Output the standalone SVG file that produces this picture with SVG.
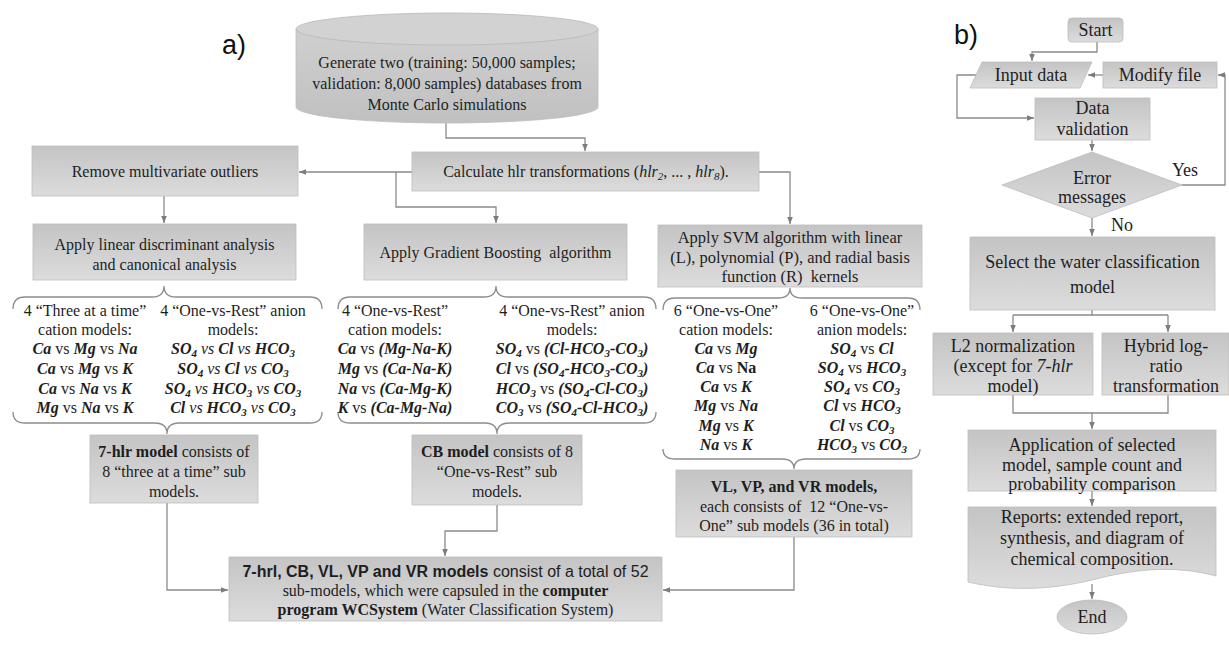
<svg xmlns="http://www.w3.org/2000/svg" width="1229" height="649" viewBox="0 0 1229 649">
<defs>
<linearGradient id="gb" x1="0" y1="0" x2="0" y2="1"><stop offset="0" stop-color="#c4c4c4"/><stop offset="1" stop-color="#dcdcdc"/></linearGradient>
<linearGradient id="gc" x1="0" y1="0" x2="0" y2="1"><stop offset="0" stop-color="#d0d0d0"/><stop offset="1" stop-color="#c0c0c0"/></linearGradient>
<marker id="ah" viewBox="0 0 10 10" refX="10" refY="5" markerWidth="7" markerHeight="7" orient="auto" markerUnits="userSpaceOnUse"><path d="M0,1 L10,5 L0,9 z" fill="#7c7c7c"/></marker>
</defs>
<style>
.bx{fill:url(#gb);stroke:#bdbdbd;stroke-width:0.8}
.t{font-family:"Liberation Serif","Times New Roman",serif;font-size:16px;fill:#1e1e1e;text-anchor:middle}
.tb{font-size:18px}
.sv{font-size:16.5px}
.s{font-family:"Liberation Sans",Arial,sans-serif}
.bi{font-weight:bold;font-style:italic}
.b{font-weight:bold}
.i{font-style:italic}
.sb{font-size:11px;baseline-shift:-3px}
.cn{fill:none;stroke:#8a8a8a;stroke-width:1.3}
.br{fill:none;stroke:#8c8c8c;stroke-width:1.3}
.lbl{font-family:"Liberation Sans",Arial,sans-serif;font-size:27px;fill:#111}
</style>
<rect width="1229" height="649" fill="#ffffff"/>
<text class="lbl" x="222" y="54">a)</text>
<text class="lbl" x="954" y="44">b)</text>

<g id="connectors">
<path class="cn" d="M446,123 V138 H585 V151" marker-end="url(#ah)"/>
<path class="cn" d="M412,172 H299" marker-end="url(#ah)"/>
<path class="cn" d="M396,172 V207 H496 V223" marker-end="url(#ah)"/>
<path class="cn" d="M759,172 H790 V224" marker-end="url(#ah)"/>
<path class="cn" d="M164,196 V223" marker-end="url(#ah)"/>
<path class="cn" d="M167,503 V590 H228" marker-end="url(#ah)"/>
<path class="cn" d="M497,505 V531 H445 V556" marker-end="url(#ah)"/>
<path class="cn" d="M794,537 V590 H663" marker-end="url(#ah)"/>
<path class="br" d="M13,309 Q13,297 25,297 H152 Q164,297 164,286 Q164,297 176,297 H310 Q322,297 322,309"/>
<path class="br" d="M338,309 Q338,297 350,297 H484 Q496,297 496,286 Q496,297 508,297 H644 Q656,297 656,309"/>
<path class="br" d="M663,310 Q663,298 675,298 H778 Q790,298 790,288 Q790,298 802,298 H908 Q920,298 920,310"/>
<path class="br" d="M13,412 Q13,423 25,423 H155 Q167,423 167,434 Q167,423 179,423 H310 Q322,423 322,412"/>
<path class="br" d="M338,412 Q338,423 350,423 H485 Q497,423 497,434 Q497,423 509,423 H644 Q656,423 656,412"/>
<path class="br" d="M663,449 Q663,459 675,459 H782 Q794,459 794,469 Q794,459 806,459 H908 Q920,459 920,449"/>
<path class="cn" d="M1097,42 V52 H1032 V61" marker-end="url(#ah)"/>
<path class="cn" d="M1103,75 H1088" marker-end="url(#ah)"/>
<path class="cn" d="M1182,185 H1225 V75 H1218" marker-end="url(#ah)"/>
<path class="cn" d="M976,75 H957 V118 H1034" marker-end="url(#ah)"/>
<path class="cn" d="M1092,140 V151" marker-end="url(#ah)"/>
<path class="cn" d="M1092,218 V236" marker-end="url(#ah)"/>
<path class="cn" d="M1092,310 V315 M1013,315 H1168"/>
<path class="cn" d="M1013,315 V332" marker-end="url(#ah)"/>
<path class="cn" d="M1168,315 V332" marker-end="url(#ah)"/>
<path class="cn" d="M1013,395 V413 H1168 V395"/>
<path class="cn" d="M1092,413 V429" marker-end="url(#ah)"/>
<path class="cn" d="M1092,491 V506" marker-end="url(#ah)"/>
<path class="cn" d="M1092,584 V599" marker-end="url(#ah)"/>
</g>

<g id="n-db">
<path d="M296,29 V107 A151,16 0 0 0 598,107 V29" fill="url(#gc)" stroke="#bdbdbd" stroke-width="0.8"/>
<ellipse cx="447" cy="29" rx="151" ry="16" fill="#d2d2d2" stroke="#b8b8b8" stroke-width="0.8"/>
<text class="t" x="447" y="68">Generate two (training: 50,000 samples;</text>
<text class="t" x="447" y="89">validation: 8,000 samples) databases from</text>
<text class="t" x="447" y="110">Monte Carlo simulations</text>
</g>
<g id="n-calc">
<rect class="bx" x="412" y="152" width="347" height="39"/>
<text class="t" x="586" y="177">Calculate hlr transformations (<tspan class="i">hlr<tspan class="sb">2</tspan></tspan>, ... , <tspan class="i">hlr<tspan class="sb">8</tspan></tspan>).</text>
</g>
<g id="n-remove">
<rect class="bx" x="32" y="146" width="266" height="50"/>
<text class="t" x="165" y="177">Remove multivariate outliers</text>
</g>
<g id="n-lda">
<rect class="bx" x="33" y="224" width="263" height="56"/>
<text class="t" x="164.5" y="250">Apply linear discriminant analysis</text>
<text class="t" x="164.5" y="270">and canonical analysis</text>
</g>
<g id="n-gb">
<rect class="bx" x="364" y="224" width="263" height="56"/>
<text class="t" x="495.5" y="258">Apply Gradient Boosting&#160; algorithm</text>
</g>
<g id="n-svm">
<rect class="bx" x="658" y="225" width="264" height="62"/>
<text class="t sv" x="790" y="243">Apply SVM algorithm with linear</text>
<text class="t sv" x="790" y="263">(L), polynomial (P), and radial basis</text>
<text class="t sv" x="790" y="282">function (R)&#160; kernels</text>
</g>

<g id="n-lda-models">
<text class="t" x="85" y="316">4 “Three at a time”</text>
<text class="t" x="85" y="335">cation models:</text>
<text class="t" x="85" y="354"><tspan class="bi">Ca</tspan> vs <tspan class="bi">Mg</tspan> vs <tspan class="bi">Na</tspan></text>
<text class="t" x="85" y="374"><tspan class="bi">Ca</tspan> vs <tspan class="bi">Mg</tspan> vs <tspan class="bi">K</tspan></text>
<text class="t" x="85" y="394"><tspan class="bi">Ca</tspan> vs <tspan class="bi">Na</tspan> vs <tspan class="bi">K</tspan></text>
<text class="t" x="85" y="413"><tspan class="bi">Mg</tspan> vs <tspan class="bi">Na</tspan> vs <tspan class="bi">K</tspan></text>
<text class="t" x="233" y="316">4 “One-vs-Rest” anion</text>
<text class="t" x="233" y="335">models:</text>
<text class="t" x="233" y="354"><tspan class="bi">SO<tspan class="sb">4</tspan></tspan> <tspan class="i">vs</tspan> <tspan class="bi">Cl</tspan> <tspan class="i">vs</tspan> <tspan class="bi">HCO<tspan class="sb">3</tspan></tspan></text>
<text class="t" x="233" y="374"><tspan class="bi">SO<tspan class="sb">4</tspan></tspan> <tspan class="i">vs</tspan> <tspan class="bi">Cl</tspan> <tspan class="i">vs</tspan> <tspan class="bi">CO<tspan class="sb">3</tspan></tspan></text>
<text class="t" x="233" y="394"><tspan class="bi">SO<tspan class="sb">4</tspan></tspan> <tspan class="i">vs</tspan> <tspan class="bi">HCO<tspan class="sb">3</tspan></tspan> <tspan class="i">vs</tspan> <tspan class="bi">CO<tspan class="sb">3</tspan></tspan></text>
<text class="t" x="233" y="413"><tspan class="bi">Cl</tspan> <tspan class="i">vs</tspan> <tspan class="bi">HCO<tspan class="sb">3</tspan></tspan> <tspan class="i">vs</tspan> <tspan class="bi">CO<tspan class="sb">3</tspan></tspan></text>
</g>
<g id="n-gb-models">
<text class="t" x="395" y="316">4 “One-vs-Rest”</text>
<text class="t" x="395" y="335">cation models:</text>
<text class="t" x="395" y="354"><tspan class="bi">Ca</tspan> vs <tspan class="bi">(Mg-Na-K)</tspan></text>
<text class="t" x="395" y="374"><tspan class="bi">Mg</tspan> vs <tspan class="bi">(Ca-Na-K)</tspan></text>
<text class="t" x="395" y="394"><tspan class="bi">Na</tspan> vs <tspan class="bi">(Ca-Mg-K)</tspan></text>
<text class="t" x="395" y="413"><tspan class="bi">K</tspan> vs <tspan class="bi">(Ca-Mg-Na)</tspan></text>
<text class="t" x="572" y="316">4 “One-vs-Rest” anion</text>
<text class="t" x="572" y="335">models:</text>
<text class="t" x="572" y="354"><tspan class="bi">SO<tspan class="sb">4</tspan></tspan> vs <tspan class="bi">(Cl-HCO<tspan class="sb">3</tspan>-CO<tspan class="sb">3</tspan>)</tspan></text>
<text class="t" x="572" y="374"><tspan class="bi">Cl</tspan> vs <tspan class="bi">(SO<tspan class="sb">4</tspan>-HCO<tspan class="sb">3</tspan>-CO<tspan class="sb">3</tspan>)</tspan></text>
<text class="t" x="572" y="394"><tspan class="bi">HCO<tspan class="sb">3</tspan></tspan> vs <tspan class="bi">(SO<tspan class="sb">4</tspan>-Cl-CO<tspan class="sb">3</tspan>)</tspan></text>
<text class="t" x="572" y="413"><tspan class="bi">CO<tspan class="sb">3</tspan></tspan> vs <tspan class="bi">(SO<tspan class="sb">4</tspan>-Cl-HCO<tspan class="sb">3</tspan>)</tspan></text>
</g>
<g id="n-svm-models">
<text class="t" x="726" y="316">6 “One-vs-One”</text>
<text class="t" x="726" y="335">cation models:</text>
<text class="t" x="726" y="354"><tspan class="bi">Ca</tspan> vs <tspan class="bi">Mg</tspan></text>
<text class="t" x="726" y="373"><tspan class="bi">Ca</tspan> vs <tspan class="b">Na</tspan></text>
<text class="t" x="726" y="392"><tspan class="bi">Ca</tspan> vs <tspan class="bi">K</tspan></text>
<text class="t" x="726" y="411"><tspan class="bi">Mg</tspan> vs <tspan class="bi">Na</tspan></text>
<text class="t" x="726" y="431"><tspan class="bi">Mg</tspan> vs <tspan class="bi">K</tspan></text>
<text class="t" x="726" y="450"><tspan class="bi">Na</tspan> vs <tspan class="bi">K</tspan></text>
<text class="t" x="862" y="316">6 “One-vs-One”</text>
<text class="t" x="862" y="335">anion models:</text>
<text class="t" x="862" y="354"><tspan class="bi">SO<tspan class="sb">4</tspan></tspan> vs <tspan class="bi">Cl</tspan></text>
<text class="t" x="862" y="373"><tspan class="bi">SO<tspan class="sb">4</tspan></tspan> vs <tspan class="bi">HCO<tspan class="sb">3</tspan></tspan></text>
<text class="t" x="862" y="392"><tspan class="bi">SO<tspan class="sb">4</tspan></tspan> vs <tspan class="bi">CO<tspan class="sb">3</tspan></tspan></text>
<text class="t" x="862" y="411"><tspan class="bi">Cl</tspan> vs <tspan class="bi">HCO<tspan class="sb">3</tspan></tspan></text>
<text class="t" x="862" y="431"><tspan class="bi">Cl</tspan> vs <tspan class="bi">CO<tspan class="sb">3</tspan></tspan></text>
<text class="t" x="862" y="450"><tspan class="bi">HCO<tspan class="sb">3</tspan></tspan> vs <tspan class="bi">CO<tspan class="sb">3</tspan></tspan></text>
</g>

<g id="n-7hlr">
<rect class="bx" x="90" y="435" width="168" height="68"/>
<text class="t" x="174" y="457"><tspan class="b">7-hlr model</tspan> consists of</text>
<text class="t" x="174" y="477">8 “three at a time” sub</text>
<text class="t" x="174" y="497">models.</text>
</g>
<g id="n-cb">
<rect class="bx" x="412" y="435" width="170" height="70"/>
<text class="t" x="497" y="457"><tspan class="b">CB model</tspan> consists of 8</text>
<text class="t" x="497" y="477">“One-vs-Rest” sub</text>
<text class="t" x="497" y="497">models.</text>
</g>
<g id="n-vl">
<rect class="bx" x="676" y="470" width="236" height="67"/>
<text class="t" x="794" y="492" font-size="17.5" font-weight="bold">VL, VP, and VR models,</text>
<text class="t" x="794" y="512">each consists of&#160; 12 “One-vs-</text>
<text class="t" x="794" y="531">One” sub models (36 in total)</text>
</g>
<g id="n-final">
<rect class="bx" x="229" y="557" width="433" height="64"/>
<text class="t s" x="445.5" y="577" font-size="16.4"><tspan class="b">7-hrl, CB, VL, VP and VR models</tspan> consist of a total of 52</text>
<text class="t" x="445.5" y="596" font-size="17.5">sub-models, which were capsuled in the <tspan class="b">computer</tspan></text>
<text class="t" x="445.5" y="615" font-size="17.5"><tspan class="b">program WCSystem</tspan> (Water Classification System)</text>
</g>

<g id="n-start">
<rect class="bx" x="1068" y="18" width="55" height="24" rx="4"/>
<text class="t tb" x="1095.5" y="36">Start</text>
</g>
<g id="n-input">
<polygon class="bx" points="982,62 1092,62 1080,88 970,88"/>
<text class="t tb" x="1031" y="81">Input data</text>
</g>
<g id="n-modify">
<rect class="bx" x="1103" y="62" width="114" height="26"/>
<text class="t tb" x="1160" y="81">Modify file</text>
</g>
<g id="n-valid">
<rect class="bx" x="1035" y="98" width="115" height="42"/>
<text class="t tb" x="1092.5" y="114">Data</text>
<text class="t tb" x="1092.5" y="135">validation</text>
</g>
<g id="n-error">
<polygon class="bx" points="1002,185 1092,152 1182,185 1092,218"/>
<text class="t tb" x="1092" y="184">Error</text>
<text class="t tb" x="1092" y="203">messages</text>
<text class="t tb" x="1185" y="176">Yes</text>
<text class="t tb" x="1122" y="231">No</text>
</g>
<g id="n-select">
<rect class="bx" x="970" y="237" width="245" height="73"/>
<text class="t tb" x="1092.5" y="268">Select the water classification</text>
<text class="t tb" x="1092.5" y="293">model</text>
</g>
<g id="n-l2">
<rect class="bx" x="933" y="333" width="160" height="62"/>
<text class="t tb" x="1013" y="352">L2 normalization</text>
<text class="t tb" x="1013" y="372">(except for <tspan class="i">7-hlr</tspan></text>
<text class="t tb" x="1013" y="392">model)</text>
</g>
<g id="n-hybrid">
<rect class="bx" x="1102" y="333" width="127" height="62"/>
<text class="t tb" x="1166" y="352">Hybrid log-</text>
<text class="t tb" x="1166" y="372">ratio</text>
<text class="t tb" x="1166" y="392">transformation</text>
</g>
<g id="n-apply">
<rect class="bx" x="968" y="430" width="248" height="61"/>
<text class="t tb" x="1092" y="451">Application of selected</text>
<text class="t tb" x="1092" y="471">model, sample count and</text>
<text class="t tb" x="1092" y="490">probability comparison</text>
</g>
<g id="n-reports">
<path class="bx" d="M968,507 H1216 V576 C1180,566 1140,568 1100,578 C1055,590 1010,592 968,582 Z"/>
<text class="t tb" x="1092" y="523">Reports: extended report,</text>
<text class="t tb" x="1092" y="544">synthesis, and diagram of</text>
<text class="t tb" x="1092" y="565">chemical composition.</text>
</g>
<g id="n-end">
<ellipse class="bx" cx="1092" cy="617" rx="35" ry="17"/>
<text class="t tb" x="1092" y="623">End</text>
</g>
</svg>
